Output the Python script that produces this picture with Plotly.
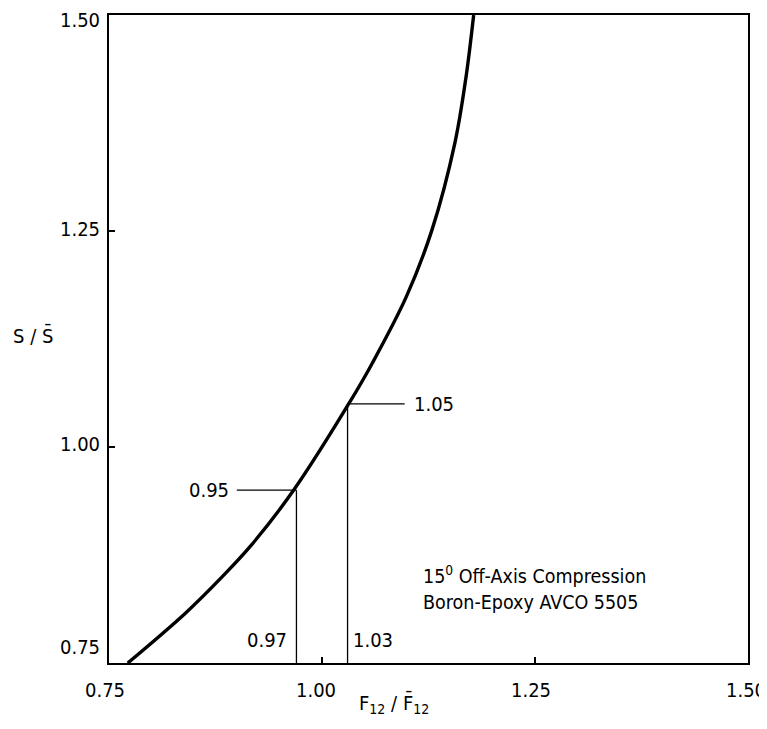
import plotly.graph_objects as go

# Curve data
f_ratio = [0.772, 0.840, 0.883, 0.915, 0.966, 1.032, 1.059, 1.099, 1.129, 1.156, 1.169, 1.178]
s_ratio = [0.750, 0.808, 0.850, 0.884, 0.949, 1.051, 1.097, 1.174, 1.251, 1.352, 1.428, 1.500]

# Marked points
mark_f = [0.97, 1.03]
mark_s = [0.95, 1.05]
mark_s_labels = ["0.95", "1.05"]
mark_f_labels = ["0.97", "1.03"]

tick_vals = [0.75, 1.00, 1.25, 1.50]
tick_text = ["0.75", "1.00", "1.25", "1.50"]

FONT = "DejaVu Sans Condensed, DejaVu Sans, sans-serif"
ymin = 0.75
# pixel nudges of the tick labels (as drawn in the reference)
y_label_nudge = [16, 3, 2, -5]
x_label_nudge = [-4, -6, -4, -2]

fig = go.Figure()
fig.add_trace(go.Scatter(x=f_ratio, y=s_ratio, mode="lines",
                         line=dict(color="black", width=3.4, shape="spline", smoothing=1.0),
                         showlegend=False, hoverinfo="skip"))

# vertical drop lines
for fx, sy in zip(mark_f, mark_s):
    fig.add_trace(go.Scatter(x=[fx, fx], y=[ymin, sy], mode="lines", line=dict(color="black", width=1.3),
                             showlegend=False, hoverinfo="skip"))

# horizontal leader lines
fig.add_trace(go.Scatter(x=[0.900, mark_f[0]], y=[mark_s[0], mark_s[0]], mode="lines",
                         line=dict(color="black", width=1.3), showlegend=False, hoverinfo="skip"))
fig.add_trace(go.Scatter(x=[mark_f[1], 1.097], y=[mark_s[1], mark_s[1]], mode="lines",
                         line=dict(color="black", width=1.3), showlegend=False, hoverinfo="skip"))

annos = [
    dict(x=0.893, y=mark_s[0], text=mark_s_labels[0], xanchor="right", yanchor="middle", size=20),
    dict(x=1.106, y=mark_s[1], text=mark_s_labels[1], xanchor="left", yanchor="middle", size=20),
    dict(x=mark_f[0] - 0.009, y=0.777, text=mark_f_labels[0], xanchor="right", yanchor="middle", size=20),
    dict(x=mark_f[1] + 0.004, y=0.777, text=mark_f_labels[1], xanchor="left", yanchor="middle", size=20),
    dict(x=1.116, y=0.837, text="15<sup>0</sup> Off-Axis Compression<br>Boron-Epoxy AVCO 5505",
         xanchor="left", yanchor="middle", align="left", size=19.5),
]
for a in annos:
    sz = a.pop("size")
    a.update(xref="x", yref="y", showarrow=False, font=dict(family=FONT, size=sz, color="black"))
    fig.add_annotation(**a)

# tick labels drawn as text next to the axes
for v, t, dy in zip(tick_vals, tick_text, y_label_nudge):
    fig.add_annotation(xref="paper", yref="y", x=0, y=v, text=t, showarrow=False, xanchor="right",
                       yanchor="middle", xshift=-7, yshift=dy, font=dict(family=FONT, size=20, color="black"))
for v, t, dx in zip(tick_vals, tick_text, x_label_nudge):
    fig.add_annotation(xref="x", yref="paper", x=v, y=0, text=t, showarrow=False, xanchor="center",
                       yanchor="middle", xshift=dx, yshift=-27, font=dict(family=FONT, size=20, color="black"))

# axis titles as annotations
fig.add_annotation(xref="paper", yref="paper", x=-0.119, y=0.506, text="S / S\u0304", showarrow=False,
                   xanchor="center", yanchor="middle", font=dict(family=FONT, size=20, color="black"))
fig.add_annotation(xref="paper", yref="paper", x=0.446, y=-0.062, text="F<sub>12</sub> / F\u0304<sub>12</sub>",
                   showarrow=False, xanchor="center", yanchor="middle", font=dict(family=FONT, size=20, color="black"))

axis_common = dict(range=[0.75, 1.50], tickvals=tick_vals, ticktext=tick_text, ticks="inside", ticklen=6,
                   tickwidth=1.5, tickcolor="black", showline=True, linecolor="black", linewidth=2,
                   mirror=True, showgrid=False, zeroline=False, automargin=False, showticklabels=False)
fig.update_xaxes(**axis_common)
fig.update_yaxes(**axis_common)

# page body has an 8px margin; figure sized so the plot area lands where the reference has it
fig.update_layout(width=759, height=721, margin=dict(l=101, r=19, t=7, b=66),
                  paper_bgcolor="white", plot_bgcolor="white", showlegend=False)

fig.write_html("out.html")
